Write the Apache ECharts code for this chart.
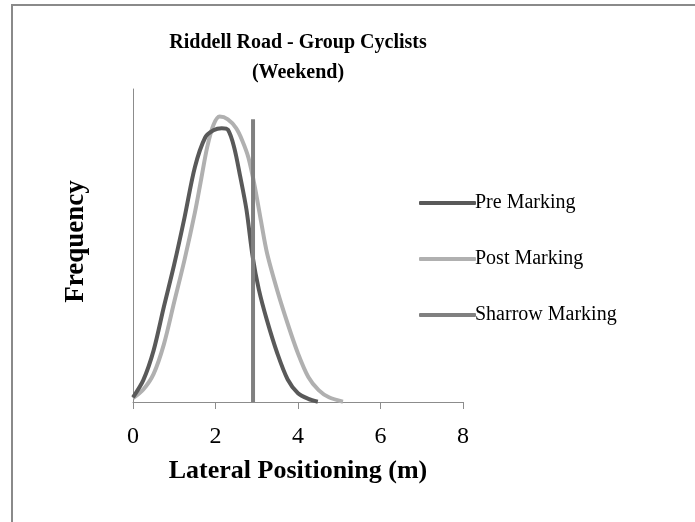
<!DOCTYPE html>
<html>
<head>
<meta charset="utf-8">
<script src="https://cdn.jsdelivr.net/npm/echarts@6/dist/echarts.min.js"></script>
<style>html,body{margin:0;padding:0;background:#fff}#c{width:695px;height:522px}</style>
</head>
<body>
<div id="c"></div>
<script>
// Data (frequency shown as % of axis height; the y axis has no labels)
var preX  = [0, 0.25, 0.5, 0.75, 1.0, 1.25, 1.5, 1.75, 1.95, 2.15, 2.3, 2.45, 2.6, 2.75, 2.9, 3.05, 3.25, 3.5, 3.75, 4.0, 4.25, 4.48];
var preY  = [1.5, 7, 16.5, 30.5, 44, 59, 75, 84.5, 86.8, 87.5, 87, 81.5, 72, 61.5, 46.5, 36, 26, 15.5, 7.2, 2.8, 1, 0.1];
var postX = [0, 0.25, 0.5, 0.75, 1.0, 1.25, 1.5, 1.65, 1.8, 1.95, 2.1, 2.3, 2.5, 2.65, 2.8, 2.95, 3.1, 3.25, 3.5, 3.75, 4.0, 4.25, 4.5, 4.75, 5.09];
var postY = [1.2, 4, 9, 18.5, 32, 45.5, 60.5, 71, 81.5, 88.5, 91.2, 90.3, 87.5, 83.5, 78, 69, 58, 47.5, 35.5, 25, 15.5, 8, 3.8, 1.5, 0.1];
var sharrowX = [2.91, 2.91];
var sharrowY = [0, 90.3];
var xTicks = [0, 2, 4, 6, 8];
var seriesNames = ['Pre Marking', 'Post Marking', 'Sharrow Marking'];

function pairs(xs, ys) { return xs.map(function (x, i) { return [x, ys[i]]; }); }

var serif = 'Liberation Serif';
var chart = echarts.init(document.getElementById('c'), null, { renderer: 'canvas' });
chart.setOption({
  animation: false,
  backgroundColor: '#fff',
  title: {
    text: 'Riddell Road - Group Cyclists\n(Weekend)',
    left: 293, top: 23, textAlign: 'center',
    textStyle: { fontFamily: serif, fontWeight: 'bold', fontSize: 20, color: '#000', lineHeight: 30 }
  },
  graphic: [{
    type: 'rect', shape: { x: 12, y: 5, width: 720, height: 560 },
    style: { fill: 'none', stroke: '#8a8a8a', lineWidth: 2 }, silent: true, z: -1
  }],
  legend: {
    orient: 'vertical', left: 414, top: 188, itemGap: 36,
    icon: 'roundRect', itemWidth: 57, itemHeight: 4,
    textStyle: { fontFamily: serif, fontSize: 20, color: '#000', padding: [0, 0, 0, -6] },
    data: seriesNames
  },
  grid: { left: 133, top: 89, width: 330, height: 313 },
  xAxis: {
    type: 'value', min: xTicks[0], max: xTicks[xTicks.length - 1], interval: 2,
    name: 'Lateral Positioning (m)', nameLocation: 'middle', nameGap: 56,
    nameTextStyle: { fontFamily: serif, fontWeight: 'bold', fontSize: 26, color: '#000' },
    axisLine: { lineStyle: { color: '#8c8c8c', width: 1 } },
    axisTick: { show: true, length: 7, lineStyle: { color: '#8c8c8c' } },
    axisLabel: { fontFamily: serif, fontSize: 24, color: '#000', margin: 23 },
    splitLine: { show: false }
  },
  yAxis: {
    type: 'value', min: 0, max: 100,
    name: 'Frequency', nameLocation: 'middle', nameGap: 43, nameRotate: 90,
    nameTextStyle: { fontFamily: serif, fontWeight: 'bold', fontSize: 27, color: '#000', padding: [0, 0, 0, 8] },
    axisLine: { show: true, lineStyle: { color: '#8c8c8c', width: 1 } },
    axisTick: { show: false }, axisLabel: { show: false }, splitLine: { show: false }
  },
  series: [
    { name: seriesNames[0], type: 'line', data: pairs(preX, preY), smooth: 0.3, showSymbol: false, symbol: 'none',
      lineStyle: { color: '#595959', width: 4 }, itemStyle: { color: '#595959' }, z: 3 },
    { name: seriesNames[1], type: 'line', data: pairs(postX, postY), smooth: 0.3, showSymbol: false, symbol: 'none',
      lineStyle: { color: '#b0b0b0', width: 4 }, itemStyle: { color: '#b0b0b0' }, z: 2 },
    { name: seriesNames[2], type: 'line', data: pairs(sharrowX, sharrowY), showSymbol: false, symbol: 'none',
      lineStyle: { color: '#808080', width: 4 }, itemStyle: { color: '#808080' }, z: 4 }
  ]
});
</script>
</body>
</html>
